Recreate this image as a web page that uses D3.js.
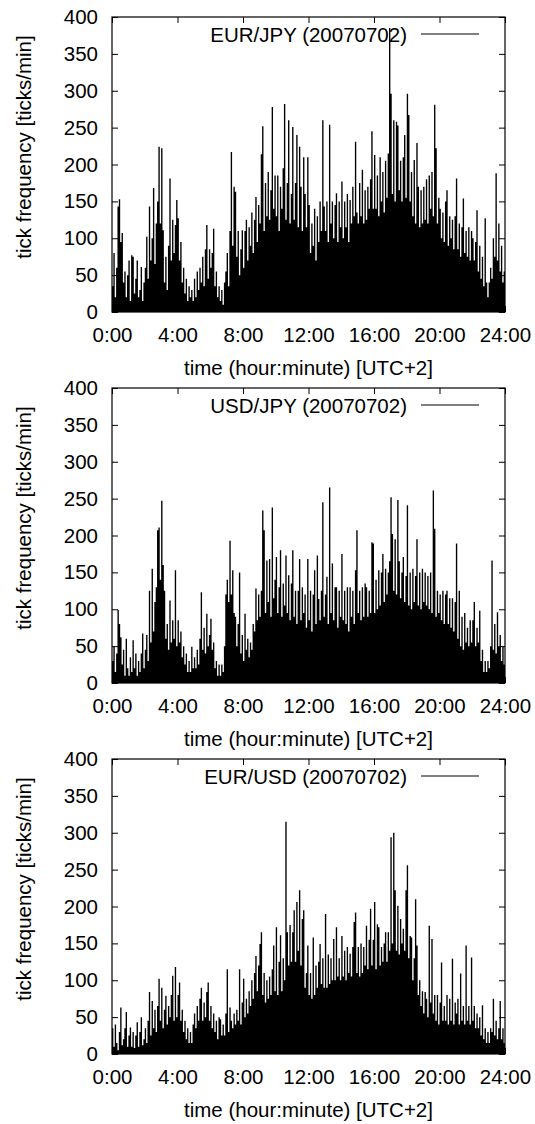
<!DOCTYPE html>
<html><head><meta charset="utf-8">
<script src="https://cdn.jsdelivr.net/npm/d3@7"></script>
<style>
body{margin:0;background:#fff}
svg{display:block}
text{font-family:"Liberation Sans",Arial,Helvetica,sans-serif;fill:#000}
</style>
</head><body>
<svg id="chart" width="535" height="1124"></svg>
<script>
// ---- data ----
const hourTicks = [0, 4, 8, 12, 16, 20, 24];
const hourLabels = ["0:00", "4:00", "8:00", "12:00", "16:00", "20:00", "24:00"];
const yTicks = [0, 50, 100, 150, 200, 250, 300, 350, 400];
const stepMinutes = 5; // one value per 5-minute slot, 12 per hour
const seriesNames = ["EUR/JPY (20070702)", "USD/JPY (20070702)", "EUR/USD (20070702)"];
const xTitle = "time (hour:minute) [UTC+2]";
const yTitle = "tick frequency [ticks/min]";

const eurjpy = [
  35,80,20,60,143,153,95,107,40,55,20,50,
  70,15,77,75,25,45,70,20,30,61,15,40,
  60,102,45,143,70,100,168,65,120,150,224,120,
  222,111,40,75,30,90,181,70,125,80,118,152,
  127,70,95,40,60,25,45,15,35,20,30,15,
  45,20,55,30,60,40,75,35,85,118,45,85,
  60,80,113,35,55,20,35,15,30,10,40,55,
  80,35,110,217,90,170,163,75,110,50,85,111,
  60,110,125,70,115,90,135,80,125,156,95,145,
  120,214,252,110,175,130,190,125,165,278,140,185,
  130,185,110,170,140,195,282,125,175,260,120,160,
  251,125,175,240,115,224,170,110,210,160,115,210,
  145,80,120,90,140,70,130,95,150,110,260,143,
  110,150,95,254,120,150,100,145,161,95,150,115,
  177,100,150,115,160,95,152,120,170,130,231,135,
  120,175,130,193,120,165,125,170,140,180,245,140,
  213,140,185,130,210,150,190,135,205,155,215,385,
  296,160,260,150,258,253,165,205,150,210,240,155,
  296,267,150,190,130,206,120,229,170,115,165,120,
  170,125,180,120,185,140,190,130,281,222,120,155,
  140,100,135,95,150,165,90,130,100,125,85,130,
  181,85,120,75,115,154,80,110,75,115,70,110,
  100,70,95,138,55,90,45,75,35,127,40,20,
  40,60,45,100,75,188,70,120,55,90,40,55
];

const usdjpy = [
  30,50,15,40,99,80,62,25,45,10,60,20,
  10,35,15,58,20,40,10,30,15,40,67,20,
  45,65,30,125,55,155,70,110,130,207,211,140,
  247,160,125,60,80,45,112,55,85,60,153,50,
  85,55,70,35,50,25,40,15,30,15,49,20,
  35,20,45,25,60,123,45,75,40,94,50,65,
  87,45,55,20,30,10,25,10,25,15,50,120,
  140,110,193,120,153,95,90,50,80,150,40,65,
  30,94,45,60,35,55,45,80,70,128,85,120,
  90,125,234,207,95,166,110,168,90,238,115,140,
  171,95,130,180,90,135,105,173,95,146,85,135,
  180,90,125,80,125,168,85,130,95,120,75,168,
  85,125,70,120,153,80,173,114,85,125,245,90,
  120,144,80,265,95,162,85,130,130,75,125,90,
  175,85,125,80,130,70,130,90,125,80,153,207,
  95,125,85,130,90,135,130,90,125,95,191,189,
  95,140,100,153,105,150,175,110,155,120,150,165,
  252,202,125,195,120,248,165,115,150,171,110,145,
  241,105,150,100,155,110,145,195,105,150,100,155,
  110,150,105,145,100,150,95,261,209,90,125,95,
  120,85,125,80,120,125,80,115,75,115,70,110,
  189,60,125,50,90,45,95,55,75,50,85,55,
  85,110,50,75,55,98,30,45,15,30,15,30,
  20,50,166,45,80,40,96,50,65,30,50,25
];

const eurusd = [
  35,10,40,15,5,30,63,12,20,35,57,10,
  25,36,10,30,8,25,43,10,30,50,12,20,
  35,15,45,84,25,72,35,60,30,65,102,45,
  90,35,60,79,40,65,50,80,106,45,118,50,
  80,97,45,60,30,45,20,35,15,30,15,40,
  55,35,65,45,75,90,45,70,50,84,97,45,
  65,35,55,30,45,20,50,47,25,40,25,55,
  115,30,63,45,35,55,40,60,45,115,40,70,
  102,50,75,55,85,65,100,75,110,133,85,120,
  149,165,80,110,70,100,75,105,80,115,147,85,
  172,80,125,161,85,130,100,315,165,120,175,125,
  165,195,125,206,140,222,120,183,195,90,110,147,
  80,110,75,158,80,120,90,125,149,95,130,90,
  190,90,135,95,130,100,156,100,172,105,130,100,
  160,105,140,100,145,110,136,105,145,179,192,110,
  145,105,150,110,145,120,174,115,155,197,120,155,
  206,115,176,172,120,145,125,150,165,125,165,140,
  294,150,300,222,140,201,135,183,150,170,140,222,
  256,130,160,158,100,130,210,147,80,100,65,85,
  55,84,75,50,174,70,156,55,80,45,80,40,
  70,124,45,65,45,80,40,75,45,129,40,70,
  55,75,40,109,45,65,40,147,45,65,40,131,
  45,65,35,55,35,50,25,66,20,35,15,30,
  15,35,30,75,25,45,20,35,72,20,35,15
];

const seriesValues = [eurjpy, usdjpy, eurusd];

// ---- layout ----
const left = 112, right = 505;
const panelTops = [17, 388, 759];
const plotH = 295;
const fontSize = 20.5;
const fontFamily = '"Liberation Sans",Arial,Helvetica,sans-serif';

const svg = d3.select("#chart");
const x = d3.scaleLinear().domain([0, 24 * 60]).range([left, right]);
const xh = d3.scaleLinear().domain([0, 24]).range([left, right]);

seriesNames.forEach((name, p) => {
  const top = panelTops[p], bottom = top + plotH;
  const y = d3.scaleLinear().domain([0, 400]).range([bottom, top]);
  const g = svg.append("g");

  const ax = (axis, tx, ty) => {
    const a = g.append("g").attr("transform", `translate(${tx},${ty})`).call(axis);
    a.attr("font-family", fontFamily).attr("font-size", fontSize);
    a.select(".domain").remove();
    a.selectAll("line").attr("stroke", "#000").attr("stroke-width", 1);
    a.selectAll("text").attr("fill", "#000");
    return a;
  };
  ax(d3.axisLeft(y).tickValues(yTicks).tickSize(-6).tickPadding(14).tickFormat(d3.format("d")), left, 0);
  ax(d3.axisRight(y).tickValues(yTicks).tickSize(-6).tickFormat(""), right, 0);
  ax(d3.axisBottom(xh).tickValues(hourTicks).tickSize(-6).tickPadding(15.5)
      .tickFormat((d, i) => hourLabels[i]), 0, bottom);
  ax(d3.axisTop(xh).tickValues(hourTicks).tickSize(-6).tickFormat(""), 0, top);

  // legend
  g.append("text").attr("x", 407).attr("y", top + 25)
    .attr("text-anchor", "end").attr("font-size", fontSize).text(name);
  g.append("line").attr("x1", 421).attr("x2", 479)
    .attr("y1", top + 17).attr("y2", top + 17)
    .attr("stroke", "#000").attr("stroke-width", 1);

  // data: tick counts per 5-minute slot drawn as impulses (step area)
  const vals = seriesValues[p];
  const pts = vals.map((v, i) => ({t: i * stepMinutes, v}));
  pts.push({t: vals.length * stepMinutes, v: vals[vals.length - 1]});
  const area = d3.area()
    .x(d => x(d.t)).y0(y(0)).y1(d => y(d.v))
    .curve(d3.curveStepAfter);
  g.append("path").datum(pts).attr("d", area).attr("fill", "#000");

  // frame
  g.append("rect").attr("x", left).attr("y", top)
    .attr("width", right - left).attr("height", plotH)
    .attr("fill", "none").attr("stroke", "#000").attr("stroke-width", 1.2);

  // axis titles
  g.append("text").attr("x", (left + right) / 2).attr("y", bottom + 63)
    .attr("text-anchor", "middle").attr("font-size", fontSize).text(xTitle);
  g.append("text")
    .attr("transform", `translate(31,${top + 130}) rotate(-90)`)
    .attr("text-anchor", "middle").attr("font-size", fontSize).text(yTitle);
});
</script>
</body></html>
